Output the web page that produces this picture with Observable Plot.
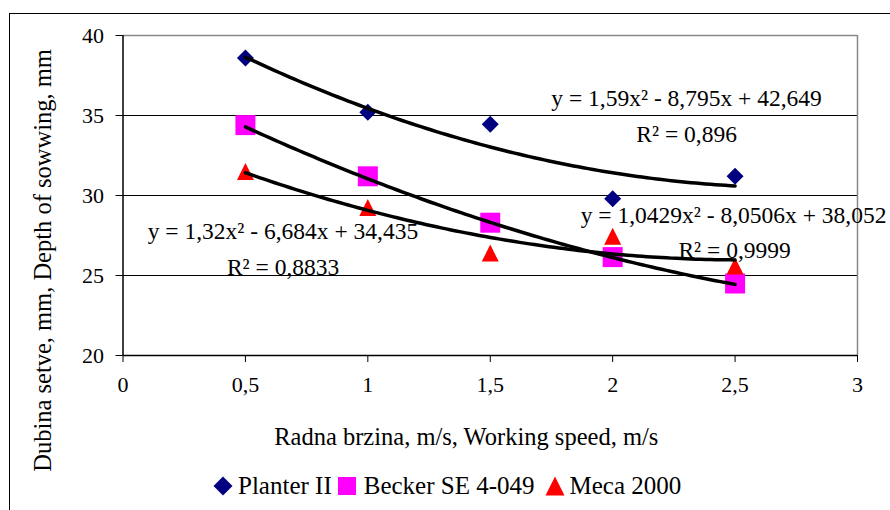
<!DOCTYPE html>
<html><head><meta charset="utf-8">
<script src="https://cdn.jsdelivr.net/npm/d3@7"></script>
<script src="https://cdn.jsdelivr.net/npm/@observablehq/plot@0.6"></script>
<style>
body{margin:0;background:#fff;width:890px;height:510px;overflow:hidden;position:relative;font-family:'Liberation Serif','DejaVu Serif',serif;}
#frame{position:absolute;left:9px;top:13px;width:900px;height:520px;border-left:1.5px solid #000;border-top:1.5px solid #000;}
#chart{position:absolute;left:0;top:0;}
#legend{position:absolute;left:213px;top:470px;height:32px;display:flex;align-items:center;font-size:25px;color:#000;white-space:nowrap;}
#legend svg{display:block;}
</style></head><body>
<div id="frame"></div><div id="chart"></div><div id="legend"></div>
<script>
// ---- data ----
const speeds = [0.5, 1, 1.5, 2, 2.5];
const planter = [38.6, 35.2, 34.45, 29.8, 31.2];
const becker  = [34.4, 31.2, 28.3, 26.15, 24.5];
const meca    = [31.5, 29.25, 26.4, 27.45, 25.6];
const seriesNames  = ["Planter II", "Becker SE 4-049", "Meca 2000"];
const seriesColors = ["#000080", "#FF00FF", "#FF0000"];
// printed trendline coefficients (y = a x^2 + b x + c)
const coefA = [1.59, 1.0429, 1.32];
const coefB = [-8.795, -8.0506, -6.684];
const coefC = [42.649, 38.052, 34.435];
const eqLabels = ["y = 1,59x² - 8,795x + 42,649", "y = 1,0429x² - 8,0506x + 38,052", "y = 1,32x² - 6,684x + 34,435"];
const r2Labels = ["R² = 0,896", "R² = 0,9999", "R² = 0,8833"];
const xTicks = [0, 0.5, 1, 1.5, 2, 2.5, 3];
const yTicks = [20, 25, 30, 35, 40];
const xTitle = "Radna brzina, m/s, Working speed, m/s";
const yTitle = "Dubina setve, mm, Depth of sowwing, mm";

// ---- annotation placement (data units) ----
const eqPos = [[2.302, 36.06], [2.494, 28.75], [0.653, 27.75]];
const r2Pos = [[2.302, 33.81], [2.498, 26.56], [0.654, 25.5]];

// ---- symbols ----
const diamond = {draw(c, s){const h=Math.sqrt(s/Math.PI);c.moveTo(0,-h);c.lineTo(h,0);c.lineTo(0,h);c.lineTo(-h,0);c.closePath();}};
const square  = {draw(c, s){const h=Math.sqrt(s/Math.PI);c.moveTo(-h,-h);c.lineTo(h,-h);c.lineTo(h,h);c.lineTo(-h,h);c.closePath();}};
const triangle= {draw(c, s){const h=Math.sqrt(s/Math.PI);c.moveTo(0,-h);c.lineTo(h,h);c.lineTo(-h,h);c.closePath();}};
const symbols = [diamond, square, triangle];
const sizes = [8.5, 10, 8.5];

const seriesVals = [planter, becker, meca];
const pts = seriesVals.map(vals => speeds.map((x, i) => ({x, y: vals[i]})));
const xs = d3.range(0.5, 2.5001, 0.02);
const trend = seriesVals.map((_, k) => xs.map(x => ({x, y: coefA[k]*x*x + coefB[k]*x + coefC[k]})));

const font = "'Liberation Serif','DejaVu Serif',serif";
const marks = [
  Plot.ruleY([25, 30, 35], {stroke: "#000", strokeWidth: 1}),
  Plot.ruleY([40], {stroke: "#888", strokeWidth: 1.5}),
  Plot.ruleX([3], {stroke: "#888", strokeWidth: 1.5}),
  Plot.axisX({ticks: xTicks, tickSize: 7, tickPadding: 14, tickFormat: d => String(d).replace(".", ","), fontSize: 22, label: null}),
  Plot.axisY({ticks: yTicks, tickSize: 7, tickPadding: 12, fontSize: 22, label: null}),
  Plot.ruleX([0], {stroke: "#000", strokeWidth: 1.5}),
  Plot.ruleY([20], {stroke: "#000", strokeWidth: 1.5}),
];
pts.forEach((p, k) => marks.push(Plot.dot(p, {x: "x", y: "y", symbol: symbols[k], r: sizes[k], fill: seriesColors[k], stroke: "none"})));
trend.forEach(t => marks.push(Plot.line(t, {x: "x", y: "y", stroke: "#000", strokeWidth: 3.5, strokeLinejoin: "round", strokeLinecap: "round"})));
eqLabels.forEach((t, k) => {
  marks.push(Plot.text([t], {x: () => eqPos[k][0], y: () => eqPos[k][1], text: d => d, fontSize: 23.5, textAnchor: "middle", lineAnchor: "middle", fill: "#000"}));
  marks.push(Plot.text([r2Labels[k]], {x: () => r2Pos[k][0], y: () => r2Pos[k][1], text: d => d, fontSize: 23.5, textAnchor: "middle", lineAnchor: "middle", fill: "#000"}));
});
marks.push(Plot.text([xTitle], {frameAnchor: "bottom", dx: -24, dy: 82, text: d => d, fontSize: 24.5, lineAnchor: "middle", fill: "#000"}));
marks.push(Plot.text([yTitle], {frameAnchor: "left", dx: -80, dy: 65, rotate: -90, text: d => d, fontSize: 24.5, lineAnchor: "middle", textAnchor: "middle", fill: "#000"}));

const chart = Plot.plot({
  width: 890, height: 465,
  marginLeft: 122.5, marginRight: 33, marginTop: 35, marginBottom: 110,
  x: {domain: [0, 3]},
  y: {domain: [20, 40]},
  style: {fontFamily: font, fontSize: "22px", background: "transparent", overflow: "visible", color: "#000"},
  marks
});
document.getElementById("chart").appendChild(chart);

// ---- legend ----
const legend = document.getElementById("legend");
const gaps = [[0, 5], [5, 7], [10, 5]];
seriesNames.forEach((name, k) => {
  const sw = document.createElementNS("http://www.w3.org/2000/svg", "svg");
  sw.setAttribute("width", 20); sw.setAttribute("height", 20);
  sw.style.marginLeft = gaps[k][0] + "px"; sw.style.marginRight = gaps[k][1] + "px";
  const path = document.createElementNS("http://www.w3.org/2000/svg", "path");
  const p = d3.path(); symbols[k].draw(p, Math.PI * (k === 1 ? 9 : 9.5) ** 2);
  path.setAttribute("d", p.toString()); path.setAttribute("transform", "translate(10,10)");
  path.setAttribute("fill", seriesColors[k]);
  sw.appendChild(path); legend.appendChild(sw);
  const span = document.createElement("span"); span.textContent = name; legend.appendChild(span);
});
</script>
</body></html>
